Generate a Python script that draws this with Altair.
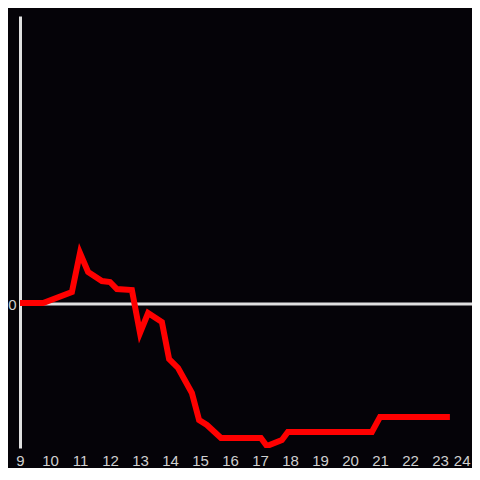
import altair as alt
import pandas as pd

hours = [9.0, 9.77, 10.73, 11.0, 11.27, 11.73, 12.0, 12.23, 12.73, 13.0, 13.27, 13.73,
         13.97, 14.27, 14.73, 14.97, 15.23, 15.7, 17.03, 17.23, 17.73, 17.93, 20.73, 21.0, 23.33]
values = [1, 1, 12, 51, 32, 23, 22, 15, 14, -29, -9, -18,
          -55, -64, -89, -116, -121, -134, -134, -142, -136, -128, -128, -113, -113]
x_ticks = list(range(9, 25))

bg = "#050308"
df = pd.DataFrame({"h": hours, "v": values})

zero = alt.Chart(pd.DataFrame({"y": [0]})).mark_rule(color="#e0e0e0", strokeWidth=3).encode(
    y=alt.Y("y:Q", scale=alt.Scale(domain=[-144, 288]))
)

line = alt.Chart(df).mark_line(color="#ff0000", strokeWidth=6, strokeJoin="miter", clip=True).encode(
    x=alt.X("h:Q", scale=alt.Scale(domain=[9, 24.067], nice=False, zero=False),
            axis=alt.Axis(values=x_ticks, title=None, grid=False, domain=False, ticks=False,
                          labelColor="#d0d0d0", labelFont="Liberation Sans", labelFontSize=15,
                          labelPadding=5, labelFlush=False,
                          labelAlign=alt.condition("datum.value == 24", alt.value("right"), alt.value("center")))),
    y=alt.Y("v:Q", scale=alt.Scale(domain=[-144, 288], nice=False, zero=False),
            axis=alt.Axis(values=[0], title=None, grid=False, domain=True, domainColor="#e0e0e0",
                          domainWidth=3, ticks=False, labelColor="#d0d0d0",
                          labelFont="Liberation Sans", labelFontSize=15, labelPadding=4)),
)

chart = alt.layer(zero, line).properties(
    width=452, height=432, background=bg,
    autosize=alt.AutoSizeParams(type="none"),
    padding={"left": 12, "top": 8, "right": 0, "bottom": 20},
).configure_view(strokeWidth=0)

chart.save("out.html", embed_options={"renderer": "svg", "actions": False})
